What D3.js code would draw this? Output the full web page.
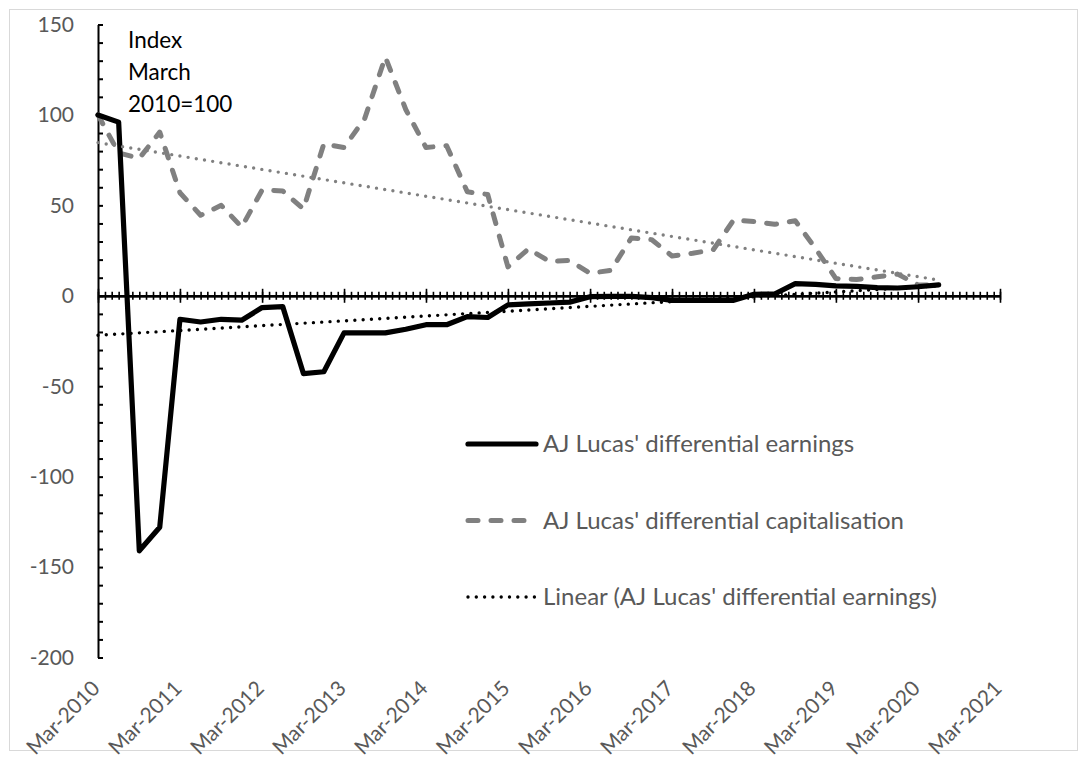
<!DOCTYPE html>
<html><head><meta charset="utf-8">
<script src="https://cdn.jsdelivr.net/npm/d3@7"></script>
<style>
body{margin:0;background:#fff}
svg{display:block}
text{font-family:Lato,"Open Sans",sans-serif}
</style>
</head><body>
<svg id="c" width="1087" height="760"></svg>
<script>
// ---- data ----
const quarters = ["2010-03","2010-06","2010-09","2010-12","2011-03","2011-06","2011-09","2011-12",
  "2012-03","2012-06","2012-09","2012-12","2013-03","2013-06","2013-09","2013-12",
  "2014-03","2014-06","2014-09","2014-12","2015-03","2015-06","2015-09","2015-12",
  "2016-03","2016-06","2016-09","2016-12","2017-03","2017-06","2017-09","2017-12",
  "2018-03","2018-06","2018-09","2018-12","2019-03","2019-06","2019-09","2019-12",
  "2020-03","2020-06"];
const earnings = [100, 96, -141, -128, -13, -14.5, -13, -13.5,
  -6.5, -6, -43, -42, -20.5, -20.5, -20.5, -18.5,
  -16, -16, -11.5, -12, -5, -4.5, -4, -3.5,
  -0.5, -0.3, -0.3, -1, -2.5, -2.5, -2.5, -2.5,
  0.8, 1.0, 6.7, 6.3, 5.5, 5.2, 4.5, 4.3,
  5, 6];
const capitalisation = [100, 79, 76, 90.5, 57, 44.5, 50, 38,
  58.5, 58, 48, 84, 82, 98, 132, 103,
  82, 83, 57.5, 56, 16, 26, 19, 19.5,
  12.5, 14, 32, 31, 22, 23.5, 25.5, 42,
  41, 39.5, 41.5, 26, 9.5, 9, 10.5, 12,
  6, 6];
const yLabels = [150, 100, 50, 0, -50, -100, -150, -200];
const xLabels = ["Mar-2010","Mar-2011","Mar-2012","Mar-2013","Mar-2014","Mar-2015",
  "Mar-2016","Mar-2017","Mar-2018","Mar-2019","Mar-2020","Mar-2021"];
const seriesNames = ["AJ Lucas' differential earnings",
  "AJ Lucas' differential capitalisation",
  "Linear (AJ Lucas' differential earnings)"];
const annotation = ["Index", "March", "2010=100"];

// ---- setup ----
const svg = d3.select("#c");
const parseQ = d3.timeParse("%Y-%m");
const parseL = d3.timeParse("%b-%Y");
const dates = quarters.map(parseQ);
const xStart = parseL(xLabels[0]), xEnd = parseL(xLabels[xLabels.length-1]);
const x = d3.scaleTime().domain([xStart, xEnd]).range([98, 1000]);
const y = d3.scaleLinear().domain([-200, 150]).range([657.5, 24.5]);

const TXT = "#595959", GRAY = "#808080";

svg.append("rect").attr("x",9.5).attr("y",9.5).attr("width",1068).attr("height",741)
  .attr("fill","#fff").attr("stroke","#d9d9d9").attr("stroke-width",1);

// ---- y axis ----
const yMinor = d3.range(yLabels[yLabels.length-1], yLabels[0] + 1, 10);
const yAx = svg.append("g").attr("transform", `translate(${x.range()[0]},0)`)
  .call(d3.axisRight(y).tickValues(yMinor).tickSize(5).tickSizeOuter(0).tickFormat(""));
yAx.select(".domain").attr("stroke","#000").attr("stroke-width",2);
yAx.selectAll(".tick line").attr("stroke","#000").attr("stroke-width",2);

svg.append("g").selectAll("text").data(yLabels).join("text")
  .attr("x", 74).attr("y", d => y(d)).attr("dy","0.35em")
  .attr("text-anchor","end").attr("fill",TXT).attr("font-size",21)
  .text(d => d);

// ---- x axis at zero ----
const months = d3.timeMonth.range(xStart, d3.timeMonth.offset(xEnd,1));
const years = xLabels.map(parseL);
const xg = svg.append("g").attr("transform", `translate(0,${y(0)})`);
const ax1 = xg.append("g").call(d3.axisBottom(x).tickValues(months).tickSize(4).tickSizeOuter(0).tickFormat(""));
const ax2 = xg.append("g").call(d3.axisTop(x).tickValues(months).tickSize(4).tickSizeOuter(0).tickFormat(""));
const ax3 = xg.append("g").call(d3.axisBottom(x).tickValues(years).tickSize(7).tickSizeOuter(0).tickFormat(""));
const ax4 = xg.append("g").call(d3.axisTop(x).tickValues(years).tickSize(7).tickSizeOuter(0).tickFormat(""));
[ax1,ax2,ax3,ax4].forEach(a => {
  a.select(".domain").attr("stroke","#000").attr("stroke-width",2);
  a.selectAll(".tick line").attr("stroke","#000").attr("stroke-width",1.6);
});

// x labels at bottom, rotated
svg.append("g").selectAll("text").data(xLabels).join("text")
  .attr("transform", d => `translate(${x(parseL(d)) - 2},${y.range()[0] + 27}) rotate(-45)`)
  .attr("dy","0.35em").attr("text-anchor","end").attr("fill",TXT).attr("font-size",21)
  .text(d => d);

// ---- series ----
const line = d3.line().x((d,i) => x(dates[i])).y(d => y(d));

svg.append("path").datum(capitalisation).attr("d", line)
  .attr("fill","none").attr("stroke",GRAY).attr("stroke-width",5)
  .attr("stroke-dasharray","10 13").attr("stroke-linecap","round").attr("stroke-linejoin","round");

svg.append("path").datum(earnings).attr("d", line)
  .attr("fill","none").attr("stroke","#000").attr("stroke-width",5.2)
  .attr("stroke-linecap","round").attr("stroke-linejoin","round");

// linear trendlines (least squares on date value)
function trend(vals) {
  const t = dates.map(d => +d);
  const mt = d3.mean(t), mv = d3.mean(vals);
  const b = d3.sum(t, (ti,i) => (ti-mt)*(vals[i]-mv)) / d3.sum(t, ti => (ti-mt)**2);
  const a = mv - b*mt;
  return [dates[0], dates[dates.length-1]].map(d => [d, a + b*(+d)]);
}
const tline = d3.line().x(d => x(d[0])).y(d => y(d[1]));
svg.append("path").datum(trend(capitalisation)).attr("d", tline)
  .attr("fill","none").attr("stroke",GRAY).attr("stroke-width",3.4)
  .attr("stroke-dasharray","0 8.3").attr("stroke-linecap","round");
svg.append("path").datum(trend(earnings)).attr("d", tline)
  .attr("fill","none").attr("stroke","#000").attr("stroke-width",3.4)
  .attr("stroke-dasharray","0 8.3").attr("stroke-linecap","round");

// ---- annotation ----
svg.append("g").selectAll("text").data(annotation).join("text")
  .attr("x",128).attr("y",(d,i) => 40 + i*32).attr("dy","0.35em")
  .attr("fill","#000").attr("font-size",22.5).text(d => d);

// ---- legend ----
const leg = svg.append("g");
const rows = [
  {name: seriesNames[0], stroke:"#000", w:5.2, dash:null},
  {name: seriesNames[1], stroke:GRAY, w:5, dash:"10 13"},
  {name: seriesNames[2], stroke:"#000", w:3.4, dash:"0 8.3"}
];
rows.forEach((r,i) => {
  const yy = 444 + i*76.5;
  leg.append("line").attr("x1",468).attr("x2",536).attr("y1",yy).attr("y2",yy)
    .attr("stroke",r.stroke).attr("stroke-width",r.w).attr("stroke-linecap","round")
    .attr("stroke-dasharray",r.dash);
  leg.append("text").attr("x",543).attr("y",yy).attr("dy","0.35em")
    .attr("fill",TXT).attr("font-size",24).text(r.name);
});
</script>
</body></html>
